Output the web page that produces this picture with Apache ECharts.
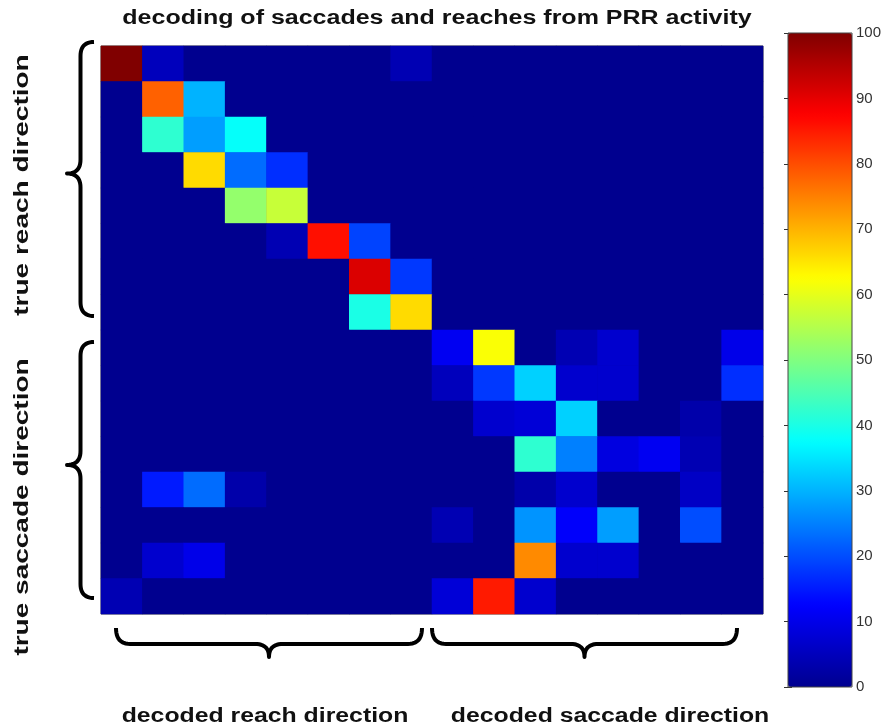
<!DOCTYPE html>
<html>
<head>
<meta charset="utf-8">
<script src="https://cdn.jsdelivr.net/npm/echarts@6/dist/echarts.min.js"></script>
<style>html,body{margin:0;padding:0;background:#fff}#c{width:886px;height:728px}</style>
</head>
<body>
<div id="c"></div>
<script>
// Decoded direction categories (columns) and true direction categories (rows)
var decodedLabels = ['R1','R2','R3','R4','R5','R6','R7','R8','S1','S2','S3','S4','S5','S6','S7','S8'];
var trueLabels = ['R1','R2','R3','R4','R5','R6','R7','R8','S1','S2','S3','S4','S5','S6','S7','S8'];
// Percent of trials decoded, one row per true direction
var row0  = [100, 5, 0, 0, 0, 0, 0, 4, 0, 0, 0, 0, 0, 0, 0, 0];
var row1  = [0, 78, 30, 0, 0, 0, 0, 0, 0, 0, 0, 0, 0, 0, 0, 0];
var row2  = [0, 42, 28, 38, 0, 0, 0, 0, 0, 0, 0, 0, 0, 0, 0, 0];
var row3  = [0, 0, 66, 23, 17, 0, 0, 0, 0, 0, 0, 0, 0, 0, 0, 0];
var row4  = [0, 0, 0, 52, 57, 0, 0, 0, 0, 0, 0, 0, 0, 0, 0, 0];
var row5  = [0, 0, 0, 0, 4, 86, 19, 0, 0, 0, 0, 0, 0, 0, 0, 0];
var row6  = [0, 0, 0, 0, 0, 0, 91, 18, 0, 0, 0, 0, 0, 0, 0, 0];
var row7  = [0, 0, 0, 0, 0, 0, 40, 66, 0, 0, 0, 0, 0, 0, 0, 0];
var row8  = [0, 0, 0, 0, 0, 0, 0, 0, 11, 62, 0, 4, 7, 0, 0, 10];
var row9  = [0, 0, 0, 0, 0, 0, 0, 0, 5, 18, 33, 7, 7, 0, 0, 17];
var row10 = [0, 0, 0, 0, 0, 0, 0, 0, 0, 7, 8, 33, 0, 0, 3, 0];
var row11 = [0, 0, 0, 0, 0, 0, 0, 0, 0, 0, 42, 25, 9, 11, 4, 0];
var row12 = [0, 15, 23, 3, 0, 0, 0, 0, 0, 0, 3, 7, 0, 0, 6, 0];
var row13 = [0, 0, 0, 0, 0, 0, 0, 0, 4, 0, 27, 12, 28, 0, 20, 0];
var row14 = [0, 7, 10, 0, 0, 0, 0, 0, 0, 0, 74, 7, 7, 0, 0, 0];
var row15 = [4, 0, 0, 0, 0, 0, 0, 0, 8, 85, 7, 0, 0, 0, 0, 0];
var colorbarTicks = [0, 10, 20, 30, 40, 50, 60, 70, 80, 90, 100];

var rows = [row0,row1,row2,row3,row4,row5,row6,row7,row8,row9,row10,row11,row12,row13,row14,row15];
var cells = [];
rows.forEach(function(r, yi){ r.forEach(function(v, xi){ cells.push([xi, yi, v]); }); });

var jet = ['#00008F','#0000FF','#0080FF','#00FFFF','#80FF80','#FFFF00','#FF8000','#FF0000','#800000'];
var FONT = 'Liberation Sans';

// Curly brace as a polyline; (x0,y0)-(x1,y1) is the span, d is the offset of the tip.
function brace(x0, y0, x1, y1, d, vertical) {
  var pts = [];
  function quad(p0, c, p1) {
    for (var i = 0; i <= 12; i++) {
      var t = i / 12, a = (1 - t) * (1 - t), b = 2 * t * (1 - t), e = t * t;
      pts.push([a * p0[0] + b * c[0] + e * p1[0], a * p0[1] + b * c[1] + e * p1[1]]);
    }
  }
  var r = 14;
  if (vertical) {
    var xs = x0, xb = x0 - d * 0.5, xt = x0 - d, ym = (y0 + y1) / 2 + (y1 - y0) * -0.02;
    quad([xs, y0], [xb, y0], [xb, y0 + r]);
    quad([xb, ym - r], [xb, ym], [xt, ym]);
    quad([xt, ym], [xb, ym], [xb, ym + r]);
    quad([xb, y1 - r], [xb, y1], [xs, y1]);
  } else {
    var ys = y0, yb = y0 + d * 0.55, yt = y0 + d, xm = (x0 + x1) / 2;
    quad([x0, ys], [x0, yb], [x0 + r, yb]);
    quad([xm - r, yb], [xm, yb], [xm, yt]);
    quad([xm, yt], [xm, yb], [xm + r, yb]);
    quad([x1 - r, yb], [x1, yb], [x1, ys]);
  }
  return {type: 'polyline', z: 100, shape: {points: pts}, style: {fill: null, stroke: '#000', lineWidth: 4, lineJoin: 'round'}};
}

var chart = echarts.init(document.getElementById('c'));
chart.setOption({
  backgroundColor: '#ffffff',
  animation: false,
  grid: [
    {left: 101, top: 46, width: 662, height: 568, show: true, borderColor: '#444', borderWidth: 1, backgroundColor: '#00008F'},
    {left: 788, top: 33, width: 64, height: 654, show: false}
  ],
  xAxis: [
    {gridIndex: 0, type: 'category', data: decodedLabels, show: false},
    {gridIndex: 1, type: 'value', min: 0, max: 1, show: false}
  ],
  yAxis: [
    {gridIndex: 0, type: 'category', data: trueLabels, inverse: true, show: false},
    {gridIndex: 1, type: 'value', min: 0, max: 100, interval: 10, position: 'right',
     axisLine: {show: false}, splitLine: {show: false},
     axisTick: {show: true, inside: true, length: 4, lineStyle: {color: '#333'}},
     axisLabel: {show: true, color: '#333', fontSize: 15, fontFamily: FONT, margin: 4,
       formatter: function(v){ return colorbarTicks.indexOf(v) >= 0 ? String(v) : ''; }}},
    {gridIndex: 1, type: 'value', min: 0, max: 100, interval: 10, position: 'left',
     axisLine: {show: false}, splitLine: {show: false},
     axisTick: {show: true, inside: true, length: 4, lineStyle: {color: '#333'}},
     axisLabel: {show: false}}
  ],
  visualMap: {
    type: 'continuous', min: 0, max: 100, seriesIndex: 0, calculable: false,
    left: 788, top: 33, itemWidth: 64, itemHeight: 654, padding: 0,
    showLabel: false, hoverLink: false,
    inRange: {color: jet}, z: 1
  },
  series: [{
    type: 'heatmap', xAxisIndex: 0, yAxisIndex: 0, data: cells,
    itemStyle: {borderWidth: 0}, emphasis: {disabled: true}, progressive: 0
  }],
  graphic: [
    {type: 'rect', shape: {x: 788, y: 33, width: 64, height: 654}, style: {fill: null, stroke: '#444', lineWidth: 1}, z: 100},
    {type: 'text', x: 437, y: 18, scaleX: 1.25, z: 100, style: {text: 'decoding of saccades and reaches from PRR activity', font: 'bold 20px "' + FONT + '"', fill: '#111', textAlign: 'center', textVerticalAlign: 'middle'}},
    {type: 'text', x: 22, y: 185, rotation: Math.PI / 2, scaleX: 1.4, z: 100, style: {text: 'true reach direction', font: 'bold 20px "' + FONT + '"', fill: '#111', textAlign: 'center', textVerticalAlign: 'middle'}},
    {type: 'text', x: 22, y: 507, rotation: Math.PI / 2, scaleX: 1.4, z: 100, style: {text: 'true saccade direction', font: 'bold 20px "' + FONT + '"', fill: '#111', textAlign: 'center', textVerticalAlign: 'middle'}},
    {type: 'text', x: 265, y: 716, scaleX: 1.24, z: 100, style: {text: 'decoded reach direction', font: 'bold 20px "' + FONT + '"', fill: '#111', textAlign: 'center', textVerticalAlign: 'middle'}},
    {type: 'text', x: 610, y: 716, scaleX: 1.24, z: 100, style: {text: 'decoded saccade direction', font: 'bold 20px "' + FONT + '"', fill: '#111', textAlign: 'center', textVerticalAlign: 'middle'}},
    brace(94, 42, 94, 316, 27, true),
    brace(94, 342, 94, 598, 27, true),
    brace(116, 628, 422, 628, 29, false),
    brace(432, 628, 737, 628, 29, false)
  ]
});
</script>
</body>
</html>
